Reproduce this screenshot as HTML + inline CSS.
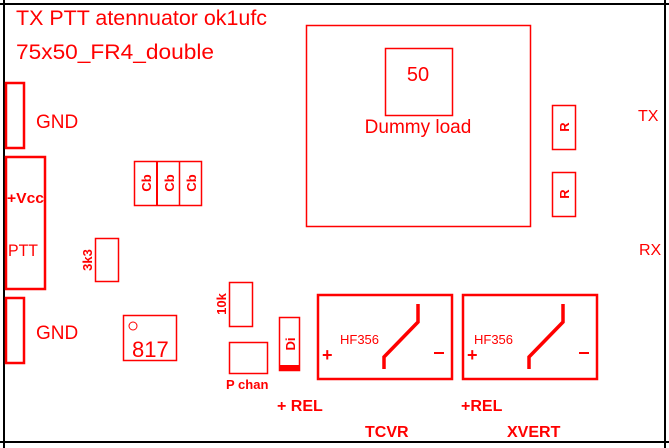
<!DOCTYPE html>
<html><head><meta charset="utf-8"><style>
html,body{margin:0;padding:0;background:#fff;width:669px;height:448px;overflow:hidden}
svg{display:block}
text{font-family:"Liberation Sans",sans-serif;fill:#f00}
</style></head><body>
<svg width="669" height="448" viewBox="0 0 669 448" xmlns="http://www.w3.org/2000/svg">
<g stroke="#000" stroke-width="2" fill="none">
<line x1="0" y1="4" x2="669" y2="4"/>
<line x1="0" y1="442" x2="669" y2="442"/>
<line x1="4" y1="0" x2="4" y2="448"/>
<line x1="665" y1="0" x2="665" y2="448"/>
</g>
<text x="16" y="25" font-size="21" textLength="251" lengthAdjust="spacingAndGlyphs">TX PTT atennuator ok1ufc</text>
<text x="16" y="59" font-size="21" textLength="198" lengthAdjust="spacingAndGlyphs">75x50_FR4_double</text>
<g stroke="#f00" fill="none">
<rect x="6" y="83" width="18" height="65" stroke-width="2.5"/>
<rect x="6" y="157" width="39" height="132" stroke-width="2.5"/>
<rect x="6" y="298" width="18" height="65" stroke-width="2.5"/>
<rect x="134.5" y="161.5" width="67" height="44" stroke-width="1.5"/>
<line x1="157" y1="161" x2="157" y2="206" stroke-width="2"/>
<line x1="179.5" y1="161" x2="179.5" y2="206" stroke-width="1.5"/>
<rect x="95.5" y="238.5" width="23" height="43" stroke-width="1.5"/>
<rect x="123.5" y="315.5" width="53" height="45" stroke-width="1.5"/>
<circle cx="133" cy="326" r="4" stroke-width="1"/>
<rect x="229.5" y="282.5" width="23" height="44" stroke-width="1.5"/>
<rect x="229.5" y="342.5" width="38" height="31" stroke-width="1.5"/>
<rect x="279.5" y="317.5" width="20" height="53" stroke-width="1.5"/>
<rect x="306.5" y="25.5" width="224" height="201" stroke-width="1.5"/>
<rect x="385.5" y="48.5" width="67" height="67" stroke-width="1.5"/>
<rect x="552.5" y="105.5" width="23" height="44" stroke-width="1.5"/>
<rect x="552.5" y="172.5" width="23" height="44" stroke-width="1.5"/>
<rect x="318" y="295" width="134" height="84" stroke-width="2.5"/>
<rect x="463" y="295" width="134" height="84" stroke-width="2.5"/>
<polyline points="418,304 418,322 384,357 384,369" stroke-width="3.5"/>
<polyline points="563,304 563,322 529,357 529,369" stroke-width="3.5"/>
</g>
<rect x="279" y="365" width="21" height="5" fill="#f00"/>
<text x="36" y="128" font-size="19">GND</text>
<text x="36" y="339" font-size="19">GND</text>
<text x="7" y="203" font-size="15" font-weight="bold" textLength="37" lengthAdjust="spacingAndGlyphs">+Vcc</text>
<text x="8" y="256" font-size="17" textLength="30" lengthAdjust="spacingAndGlyphs">PTT</text>
<g font-size="13" font-weight="bold">
<text transform="translate(151,183) rotate(-90)" text-anchor="middle">Cb</text>
<text transform="translate(174,183) rotate(-90)" text-anchor="middle">Cb</text>
<text transform="translate(196,183) rotate(-90)" text-anchor="middle">Cb</text>
<text transform="translate(92,260) rotate(-90)" text-anchor="middle">3k3</text>
<text transform="translate(226,304) rotate(-90)" text-anchor="middle">10k</text>
<text transform="translate(295,344) rotate(-90)" text-anchor="middle">Di</text>
<text transform="translate(569,127) rotate(-90)" text-anchor="middle">R</text>
<text transform="translate(569,194) rotate(-90)" text-anchor="middle">R</text>
</g>
<text x="132" y="357" font-size="22">817</text>
<text x="226" y="389" font-size="13" font-weight="bold">P chan</text>
<text x="418" y="81" font-size="20" text-anchor="middle">50</text>
<text x="418" y="133" font-size="19" text-anchor="middle">Dummy load</text>
<text x="638" y="121" font-size="16">TX</text>
<text x="639" y="255" font-size="16">RX</text>
<text x="340" y="344" font-size="13">HF356</text>
<text x="474" y="344" font-size="13">HF356</text>
<text x="322" y="361" font-size="18" font-weight="bold">+</text>
<text x="467" y="361" font-size="18" font-weight="bold">+</text>
<rect x="434" y="352" width="10" height="2" fill="#f00"/>
<rect x="579" y="352" width="10" height="2" fill="#f00"/>
<text x="277" y="411" font-size="16" font-weight="bold">+ REL</text>
<text x="461" y="411" font-size="16" font-weight="bold">+REL</text>
<text x="365" y="437" font-size="16" font-weight="bold">TCVR</text>
<text x="507" y="437" font-size="16" font-weight="bold">XVERT</text>
</svg>
</body></html>
